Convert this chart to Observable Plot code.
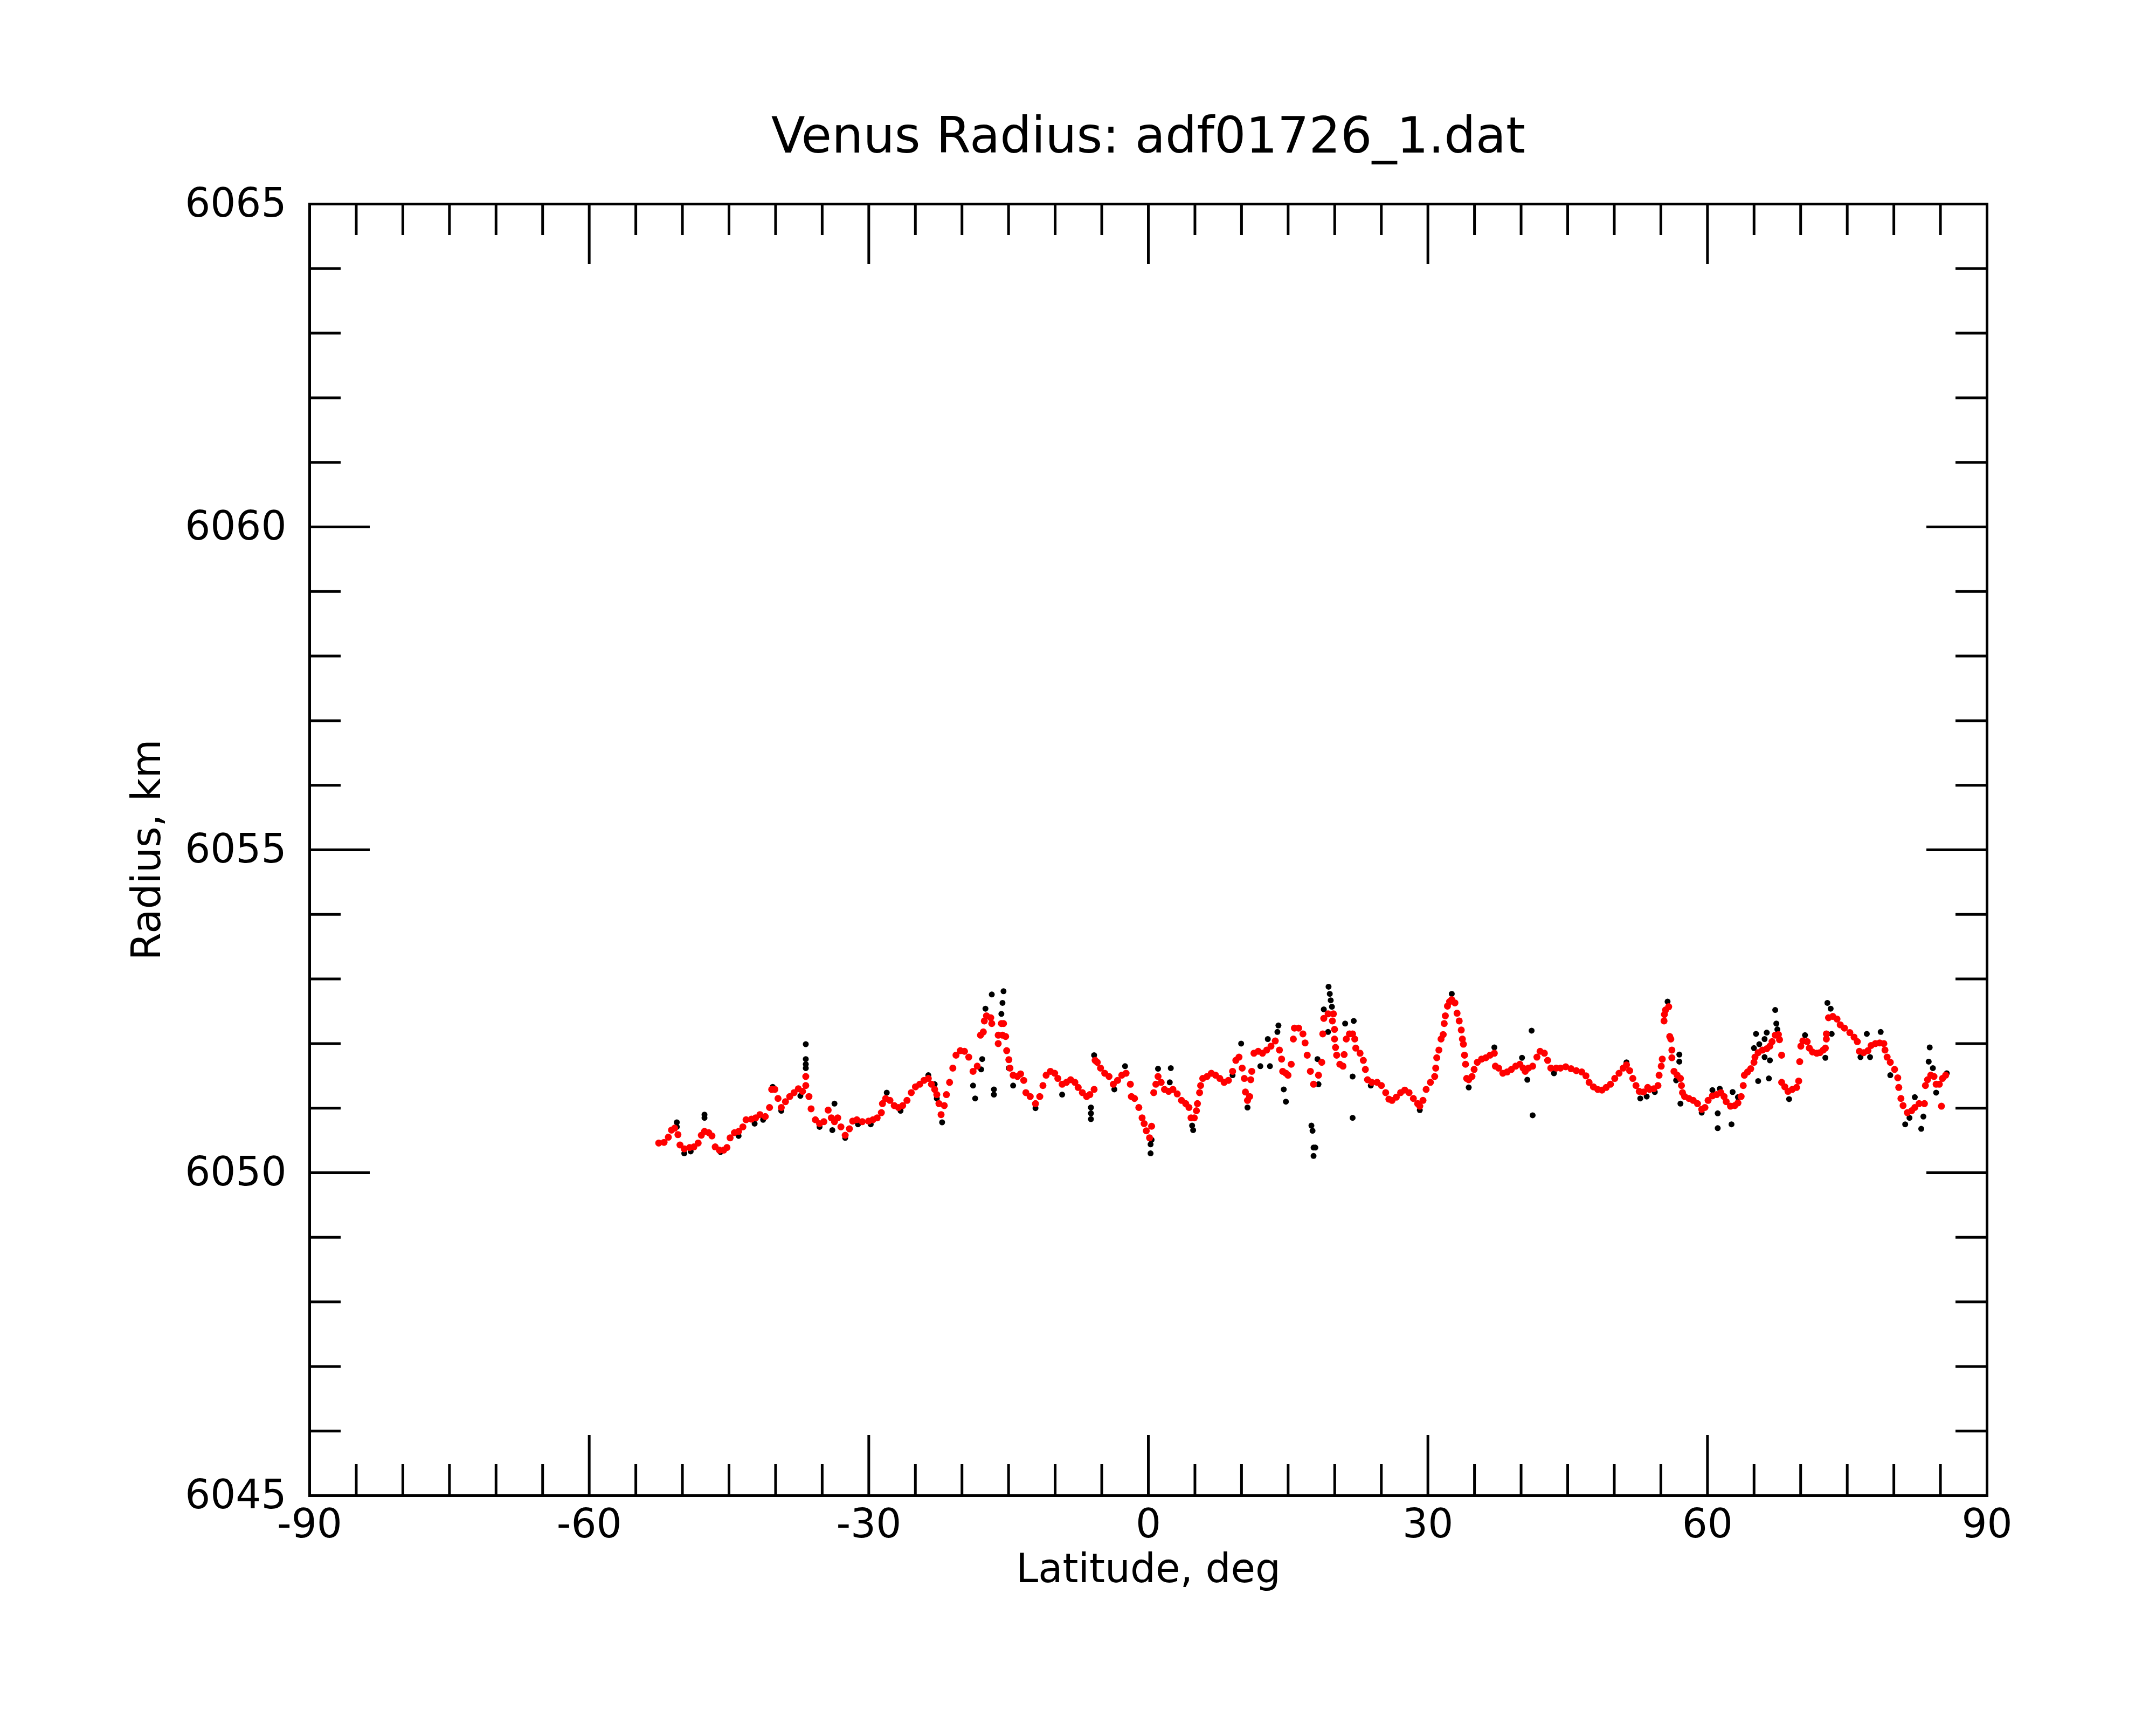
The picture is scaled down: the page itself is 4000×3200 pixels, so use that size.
<!DOCTYPE html>
<html><head><meta charset="utf-8">
<script src="https://cdn.jsdelivr.net/npm/d3@7"></script>
<script src="https://cdn.jsdelivr.net/npm/@observablehq/plot@0.6"></script>
<style>html,body{margin:0;padding:0;background:#fff;}</style>
</head><body><div id="chart"></div>
<script>
const titleText = "Venus Radius: adf01726_1.dat";
const xLabel = "Latitude, deg";
const yLabel = "Radius, km";
const xTickLabels = [-90, -60, -30, 0, 30, 60, 90];
const xMajorTicks = [-60, -30, 0, 30, 60];
const xMinorTicks = [-85,-80,-75,-70,-65,-55,-50,-45,-40,-35,-25,-20,-15,-10,-5,5,10,15,20,25,35,40,45,50,55,65,70,75,80,85];
const yTickLabels = [6045, 6050, 6055, 6060, 6065];
const yMajorTicks = [6050, 6055, 6060];
const yMinorTicks = [6046,6047,6048,6049,6051,6052,6053,6054,6056,6057,6058,6059,6061,6062,6063,6064];

// [latitude, radius] – smoothed (red) series
const redPoints = [
[-52.54,6050.46],[-51.97,6050.47],[-51.51,6050.55],[-51.17,6050.66],[-50.83,6050.69],[-50.48,6050.59],[-50.26,6050.43],[-49.80,6050.37],[-49.23,6050.39],[-48.77,6050.40],[-48.31,6050.46],[-47.97,6050.58],[-47.63,6050.64],[-47.17,6050.62],[-46.83,6050.57],[-46.48,6050.40],[-46.03,6050.35],[-45.57,6050.35],[-45.22,6050.39],[-44.88,6050.54],[-44.42,6050.62],[-43.97,6050.64],[-43.51,6050.71],[-43.17,6050.82],[-42.59,6050.83],[-42.14,6050.85],[-41.68,6050.90],[-41.11,6050.87],[-40.65,6051.01],[-40.42,6051.29],[-40.08,6051.29],[-39.74,6051.15],[-39.39,6051.01],[-38.94,6051.10],[-38.48,6051.18],[-38.02,6051.24],[-37.56,6051.30],[-37.11,6051.26],[-36.76,6051.35],[-36.76,6051.49],[-36.42,6051.18],[-36.19,6050.99],[-35.73,6050.82],[-35.28,6050.76],[-34.82,6050.79],[-34.36,6050.97],[-34.02,6050.85],[-33.68,6050.79],[-33.33,6050.85],[-32.99,6050.71],[-32.53,6050.58],[-32.08,6050.68],[-31.73,6050.80],[-31.28,6050.82],[-30.70,6050.79],[-30.02,6050.80],[-29.56,6050.82],[-29.10,6050.85],[-28.65,6050.93],[-28.53,6051.07],[-28.19,6051.15],[-27.73,6051.12],[-27.27,6051.04],[-26.82,6051.01],[-26.36,6051.04],[-25.90,6051.12],[-25.44,6051.24],[-24.99,6051.33],[-24.53,6051.37],[-24.07,6051.43],[-23.61,6051.46],[-23.27,6051.37],[-22.93,6051.29],[-22.70,6051.21],[-22.47,6051.07],[-22.24,6050.90],[-21.90,6051.04],[-21.67,6051.21],[-21.33,6051.40],[-20.98,6051.62],[-20.64,6051.82],[-20.18,6051.89],[-19.73,6051.88],[-19.27,6051.79],[-18.81,6051.57],[-18.36,6051.65],[-18.01,6052.13],
[-17.71,6052.18],[-17.60,6052.35],[-17.37,6052.43],[-16.91,6052.40],[-16.80,6052.31],[-16.11,6052.13],[-16.11,6052.00],[-15.77,6052.31],[-15.54,6052.31],[-15.65,6052.13],[-15.31,6052.11],[-15.20,6051.89],[-14.97,6051.75],[-14.85,6051.62],[-14.51,6051.51],[-14.05,6051.49],[-13.71,6051.53],[-13.37,6051.43],[-13.14,6051.24],[-12.68,6051.18],[-12.11,6051.07],[-11.65,6051.18],[-11.31,6051.35],[-10.97,6051.51],[-10.51,6051.57],[-10.05,6051.54],[-9.71,6051.46],[-9.25,6051.37],[-8.79,6051.40],[-8.34,6051.44],[-7.88,6051.40],[-7.53,6051.32],[-7.08,6051.24],[-6.62,6051.18],[-6.28,6051.21],[-5.82,6051.29],[-5.71,6051.74],[-5.48,6051.71],[-5.13,6051.62],[-4.68,6051.54],[-4.22,6051.49],[-3.76,6051.37],[-3.30,6051.43],[-2.85,6051.51],[-2.39,6051.54],[-1.93,6051.37],[-1.82,6051.18],[-1.48,6051.15],[-1.02,6051.01],[-0.67,6050.85],[-0.45,6050.76],[-0.22,6050.65],[0.13,6050.54],[0.35,6050.72],[0.58,6051.24],[0.81,6051.37],[1.04,6051.49],[1.38,6051.40],[1.73,6051.29],[2.18,6051.26],[2.64,6051.29],[3.10,6051.22],[3.56,6051.12],[4.01,6051.07],[4.36,6051.01],[4.58,6050.85],[4.93,6050.85],[5.16,6050.96],[5.27,6051.07],[5.50,6051.24],[5.61,6051.35],[5.84,6051.46],[6.30,6051.49],[6.76,6051.54],[7.21,6051.51],[7.67,6051.46],[8.13,6051.40],[8.59,6051.43],[9.04,6051.57],[9.39,6051.74],[9.73,6051.79],[10.07,6051.62],[10.30,6051.46],[10.42,6051.25],[10.64,6051.12],[10.87,6051.18],[10.99,6051.44],[11.10,6051.57],[11.33,6051.85],[11.79,6051.88],[12.25,6051.85],[12.70,6051.90],[13.16,6051.96],[13.62,6052.04],[14.07,6051.90],[14.30,6051.76],[14.42,6051.57],[14.76,6051.54],[14.99,6051.51],[15.33,6051.68],[15.56,6052.07],[15.68,6052.24],[16.13,6052.24],[16.59,6052.15],[16.82,6052.01],[17.05,6051.82],[17.39,6051.57],[17.73,6051.37],
[18.26,6051.51],[18.61,6051.71],[18.72,6052.15],[18.83,6052.39],[19.29,6052.46],[19.86,6052.46],[19.75,6052.35],[19.98,6052.22],[19.98,6052.07],[20.09,6051.94],[20.21,6051.82],[20.55,6051.68],[20.89,6051.65],[21.01,6051.83],[21.24,6052.07],[21.58,6052.15],[21.92,6052.15],[22.15,6052.07],[22.26,6051.93],[22.72,6051.85],[23.07,6051.74],[23.29,6051.60],[23.52,6051.44],[23.98,6051.40],[24.55,6051.40],[25.01,6051.35],[25.47,6051.24],[25.81,6051.14],[26.15,6051.12],[26.61,6051.17],[27.07,6051.24],[27.52,6051.28],[27.98,6051.24],[28.44,6051.15],[28.90,6051.07],[29.13,6051.03],[29.47,6051.12],[29.81,6051.29],[30.27,6051.40],[30.73,6051.49],[30.84,6051.62],[30.95,6051.78],[31.18,6051.90],[31.41,6052.07],[31.64,6052.14],[31.75,6052.31],[31.87,6052.43],[32.10,6052.58],[32.33,6052.65],[32.56,6052.68],[32.90,6052.63],[33.13,6052.47],[33.36,6052.35],[33.58,6052.21],[33.70,6052.07],[33.81,6051.99],[33.93,6051.82],[34.04,6051.68],[34.16,6051.46],[34.38,6051.44],[34.73,6051.49],[34.96,6051.60],[35.30,6051.71],[35.76,6051.76],[36.21,6051.78],[36.67,6051.82],[37.13,6051.85],[37.24,6051.65],[37.59,6051.62],[38.04,6051.54],[38.50,6051.56],[38.96,6051.60],[39.42,6051.65],[39.87,6051.68],[40.22,6051.62],[40.44,6051.57],[40.79,6051.62],[41.24,6051.65],[41.70,6051.79],[42.04,6051.88],[42.50,6051.85],[42.85,6051.74],[43.19,6051.62],[43.76,6051.62],[44.22,6051.62],[44.79,6051.64],[45.36,6051.61],[45.93,6051.58],[46.51,6051.56],[46.96,6051.50],[47.30,6051.40],[47.76,6051.33],[48.22,6051.29],[48.68,6051.28],[49.13,6051.32],[49.59,6051.37],[50.05,6051.46],[50.51,6051.54],[50.96,6051.62],[51.31,6051.67],[51.65,6051.58],[51.99,6051.46],[52.33,6051.35],[52.68,6051.26],[53.14,6051.25],[53.59,6051.32],
[53.78,6051.29],[54.24,6051.30],[54.69,6051.35],[54.81,6051.51],[55.04,6051.65],[55.15,6051.76],[55.34,6052.35],[55.38,6052.45],[55.50,6052.52],[55.84,6052.57],[55.95,6052.11],[56.07,6052.07],[56.18,6051.90],[56.18,6051.78],[56.41,6051.57],[56.75,6051.51],[57.10,6051.46],[57.21,6051.35],[57.32,6051.24],[57.55,6051.18],[58.01,6051.15],[58.47,6051.12],[58.93,6051.07],[59.38,6050.98],[59.73,6051.01],[60.07,6051.12],[60.53,6051.19],[60.98,6051.21],[61.44,6051.24],[61.78,6051.18],[62.01,6051.10],[62.47,6051.03],[62.93,6051.04],[63.27,6051.08],[63.61,6051.18],[63.84,6051.35],[63.96,6051.51],[64.30,6051.56],[64.64,6051.61],[64.99,6051.71],[65.10,6051.79],[65.44,6051.86],[65.90,6051.90],[66.36,6051.92],[66.70,6051.96],[66.93,6052.03],[67.27,6052.13],[67.61,6052.14],[67.73,6052.06],[67.96,6051.82],[67.96,6051.40],[68.30,6051.33],[68.64,6051.26],[69.10,6051.29],[69.56,6051.32],[69.79,6051.42],[69.90,6051.72],[70.02,6051.96],[70.24,6052.04],[70.70,6052.03],[70.93,6051.93],[71.27,6051.87],[71.73,6051.85],[72.07,6051.86],[72.42,6051.90],[72.65,6051.93],[72.76,6052.07],[72.76,6052.15],[72.99,6052.40],[73.45,6052.42],[73.90,6052.38],[74.25,6052.29],[74.70,6052.24],[75.28,6052.17],[75.73,6052.10],[76.08,6052.03],[76.30,6051.88],[76.76,6051.86],[77.22,6051.89],[77.56,6051.97],[78.02,6052.00],[78.48,6052.01],[78.93,6052.00],[79.05,6051.90],[79.28,6051.79],[79.62,6051.71],[80.08,6051.60],[80.42,6051.47],[80.53,6051.32],[80.76,6051.15],[80.99,6051.04],[81.45,6050.93],[81.91,6050.96],[82.25,6051.01],[82.71,6051.07],[83.28,6051.07],[83.39,6051.35],[83.62,6051.44],[83.96,6051.51],[84.31,6051.49],[84.54,6051.37],[84.88,6051.37],[85.22,6051.46],[85.56,6051.51],[85.11,6051.03]
];

// [latitude, radius] – raw (black) points visible around / beneath the red series
const blackPoints = [
[-50.60,6050.78],[-50.60,6050.71],[-36.76,6051.99],[-36.76,6051.76],[-36.76,6051.68],[-36.76,6051.62],[-47.63,6050.90],[-47.63,6050.85],[-18.81,6051.35],[-18.58,6051.15],[-33.68,6051.07],[-22.13,6050.78],[-49.80,6050.30],[-49.11,6050.33],[-45.91,6050.32],[-43.97,6050.57],[-42.25,6050.76],[-41.34,6050.82],[-40.31,6051.33],[-39.39,6050.96],[-37.34,6051.19],[-35.28,6050.71],[-33.91,6050.66],[-32.53,6050.54],[-31.16,6050.75],[-29.79,6050.75],[-28.07,6051.24],[-26.59,6050.96],[-23.61,6051.51],[-22.70,6051.15],[-22.93,6051.37],
[-16.80,6052.76],[-15.54,6052.81],[-15.65,6052.63],[-15.77,6052.46],[-17.48,6052.54],[-16.57,6051.21],[-16.57,6051.29],[-14.97,6051.62],[-14.51,6051.35],[-6.16,6051.01],[-6.16,6050.92],[-6.16,6050.83],[-5.82,6051.82],[0.24,6050.30],[0.24,6050.44],[4.81,6050.66],[1.04,6051.61],[2.41,6051.62],[2.30,6051.40],[9.96,6052.00],[12.82,6052.07],[13.96,6052.28],[13.85,6052.18],[13.05,6051.65],[12.02,6051.65],[10.64,6051.01],[14.53,6051.29],[14.76,6051.10],[17.50,6050.73],[17.62,6050.65],[17.73,6050.39],[17.73,6050.26],[-3.65,6051.29],[-9.25,6051.21],[-2.50,6051.65],[-17.83,6051.76],[-17.94,6051.60],[-12.11,6051.00],[0.35,6050.51],[4.70,6050.73],[9.04,6051.51],
[19.34,6052.88],[19.47,6052.77],[19.57,6052.67],[19.70,6052.57],[18.83,6052.53],[19.29,6052.18],[21.92,6051.49],[21.92,6050.85],[22.04,6052.35],[21.12,6052.31],[41.13,6052.20],[41.24,6050.89],[52.79,6051.15],[53.48,6051.18],[40.67,6051.44],[34.38,6051.32],[17.92,6050.39],[18.15,6051.76],[18.26,6051.37],[29.13,6050.97],[32.56,6052.77],[37.13,6051.94],[40.10,6051.78],[51.31,6051.71],[43.53,6051.54],[23.87,6051.35],
[55.72,6052.65],[67.27,6052.52],[67.39,6052.31],[67.50,6052.22],[65.21,6052.15],[66.36,6052.17],[66.13,6052.07],[65.56,6051.99],[64.99,6051.93],[65.44,6051.42],[66.59,6051.46],[66.70,6051.74],[66.13,6051.79],[57.10,6051.07],[61.10,6050.69],[61.10,6050.92],[62.58,6050.75],[62.70,6051.25],[63.27,6051.17],[68.76,6051.14],[72.87,6052.63],[73.22,6052.54],[73.33,6052.15],[77.10,6052.15],[78.59,6052.18],[77.45,6051.79],[79.62,6051.51],[81.22,6050.75],[82.94,6050.68],[83.17,6050.87],[82.25,6051.17],[83.85,6051.94],[83.74,6051.72],[84.19,6051.62],[84.54,6051.24],[85.68,6051.54],[56.98,6051.72],[56.98,6051.83],[56.64,6051.43],[60.53,6051.28],[61.32,6051.30],[70.47,6052.13],[72.65,6051.78],[76.42,6051.79],[81.68,6050.85],[54.35,6051.25],[59.38,6050.93]
];

const W = 4000, H = 3200;
const mL = 574, mR = 314, mT = 378, mB = 426;
const pw = W - mL - mR, ph = H - mT - mB;
const minorLen = 58, majorLen = 112, sw = 5;
const font = "DejaVu Sans";
const tickStyle = {stroke: "black", strokeWidth: sw};

const chart = Plot.plot({
  width: W, height: H,
  marginLeft: mL, marginRight: mR, marginTop: mT, marginBottom: mB,
  x: {domain: [-90, 90], axis: null},
  y: {domain: [6045, 6065], axis: null},
  style: {fontFamily: font, background: "white", color: "black", overflow: "visible"},
  marks: [
    Plot.dot(blackPoints, {x: d => d[0], y: d => d[1], r: 5.5, fill: "black"}),
    Plot.dot(redPoints, {x: d => d[0], y: d => d[1], r: 6.5, fill: "#ff0000"}),
    Plot.tickX(xMinorTicks, {x: d => d, insetTop: ph - minorLen, ...tickStyle}),
    Plot.tickX(xMinorTicks, {x: d => d, insetBottom: ph - minorLen, ...tickStyle}),
    Plot.tickX(xMajorTicks, {x: d => d, insetTop: ph - majorLen, ...tickStyle}),
    Plot.tickX(xMajorTicks, {x: d => d, insetBottom: ph - majorLen, ...tickStyle}),
    Plot.tickY(yMinorTicks, {y: d => d, insetRight: pw - minorLen, ...tickStyle}),
    Plot.tickY(yMinorTicks, {y: d => d, insetLeft: pw - minorLen, ...tickStyle}),
    Plot.tickY(yMajorTicks, {y: d => d, insetRight: pw - majorLen, ...tickStyle}),
    Plot.tickY(yMajorTicks, {y: d => d, insetLeft: pw - majorLen, ...tickStyle}),
    Plot.frame({stroke: "black", strokeWidth: sw}),
    Plot.axisX({ticks: xTickLabels, tickSize: 0, tickPadding: 25, fontSize: 74, tickFormat: d => String(d), label: null, fill: "black"}),
    Plot.axisY({ticks: yTickLabels, tickSize: 0, tickPadding: 43, fontSize: 74, tickFormat: d => String(d), label: null, fill: "black"}),
    Plot.text([titleText], {text: d => d, frameAnchor: "top", lineAnchor: "bottom", dy: -96, fontSize: 92, fill: "black"}),
    Plot.text([xLabel], {text: d => d, frameAnchor: "bottom", lineAnchor: "bottom", dy: 160, fontSize: 74, fill: "black"}),
    Plot.text([yLabel], {text: d => d, frameAnchor: "left", textAnchor: "middle", lineAnchor: "bottom", rotate: -90, dx: -278, fontSize: 74, fill: "black"})
  ]
});
document.getElementById("chart").appendChild(chart);
</script>
</body></html>
